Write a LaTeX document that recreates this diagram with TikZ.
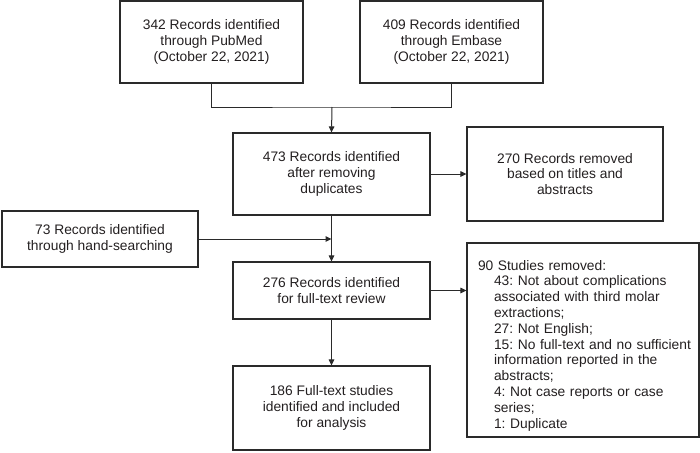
\documentclass[tikz,border=0pt]{standalone}
\usepackage{fontspec}
\setmainfont{Liberation Sans}
\usetikzlibrary{arrows.meta}
\definecolor{ink}{HTML}{231F20}
\definecolor{edge}{HTML}{2A2A2A}
\frenchspacing
\hyphenpenalty=10000
\begin{document}
\begin{tikzpicture}[x=1pt,y=-1pt,
  box/.style={draw=edge, line width=1.1pt, text=ink, align=center, inner sep=0pt,
    font=\fontsize{13.8}{15.8}\selectfont},
  conn/.style={draw=edge, line width=1pt},
  arr/.style={conn, -{Triangle[length=6pt,width=5.5pt]}}]
\useasboundingbox (0,0) rectangle (700,452);
\node[box, minimum width=183pt, minimum height=82pt] (pub) at (211.5,42)
  {342 Records identified\\through PubMed\\(October 22, 2021)};
\node[box, minimum width=183pt, minimum height=82pt] (emb) at (451.5,42)
  {409 Records identified\\through Embase\\(October 22, 2021)};
\node[box, minimum width=197pt, minimum height=82pt] (dup) at (331.5,174)
  {473 Records identified\\after removing\\duplicates};
\node[box, minimum width=196pt, minimum height=94pt] (rem) at (565,174)
  {270 Records removed\\based on titles and\\abstracts};
\node[box, minimum width=196pt, minimum height=56pt] (hand) at (100,239)
  {73 Records identified\\through hand-searching};
\node[box, minimum width=197pt, minimum height=57pt] (full) at (331.5,290.5)
  {276 Records identified\\for full-text review};
\node[box, minimum width=197pt, minimum height=84pt] (incl) at (331.5,408)
  {186 Full-text studies\\identified and included\\for analysis};
\node[box, minimum width=232pt, minimum height=194pt, align=left, text width=222pt,
  inner xsep=5pt] (excl) at (583,340)
  {\hspace*{6pt}\rule{0pt}{21pt}90 Studies removed:\\
   \hspace*{22pt}43: Not about complications\\
   \hspace*{22pt}associated with third molar\\
   \hspace*{22pt}extractions;\\
   \hspace*{22pt}27: Not English;\\
   \hspace*{22pt}15: No full-text and no sufficient\\
   \hspace*{22pt}information reported in the\\
   \hspace*{22pt}abstracts;\\
   \hspace*{22pt}4: Not case reports or case\\
   \hspace*{22pt}series;\\
   \hspace*{22pt}1: Duplicate};
\coordinate (m) at (332,107);
\draw[conn] (pub.south) |- (m) -| (emb.south);
\draw[arr] (m) -- (dup.north);
\draw[arr] (dup.east) -- (rem.west);
\draw[arr] (dup.south) -- (full.north);
\draw[arr] (hand.east) -- (hand.east -| dup.south);
\draw[arr] (full.east) -- (full.east -| excl.west);
\draw[arr] (full.south) -- (incl.north);
\end{tikzpicture}
\end{document}
